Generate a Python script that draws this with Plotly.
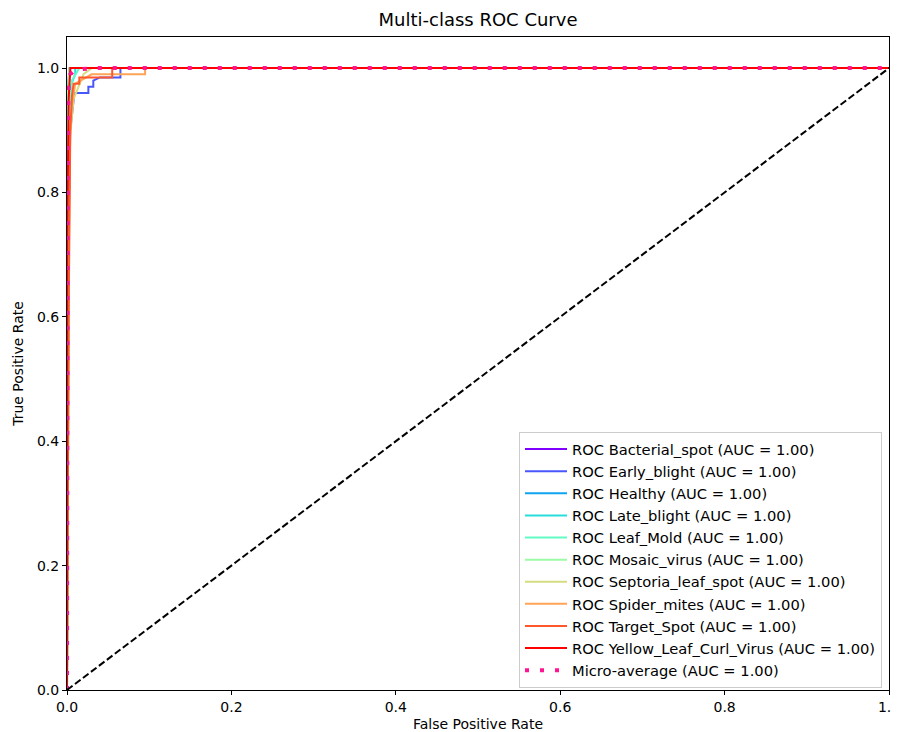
import plotly.graph_objects as go

class_names = ["Bacterial_spot", "Early_blight", "Healthy", "Late_blight", "Leaf_Mold",
               "Mosaic_virus", "Septoria_leaf_spot", "Spider_mites", "Target_Spot",
               "Yellow_Leaf_Curl_Virus"]
class_colors = ["#8000ff", "#4757fb", "#0ea4f0", "#2adddd", "#62fbc4",
                "#9cfba4", "#d4dd80", "#ffa457", "#ff572c", "#ff0000"]
auc_values = [1.00, 1.00, 1.00, 1.00, 1.00, 1.00, 1.00, 1.00, 1.00, 1.00]

fpr_bacterial = [0, 0, 0.002, 0.004, 1]
tpr_bacterial = [0, 0.85, 0.97, 1.0, 1.0]
fpr_early = [0, 0.002, 0.004, 0.006, 0.009, 0.026, 0.026, 0.032, 0.032, 0.040, 0.065, 0.065, 1]
tpr_early = [0, 0.75, 0.90, 0.925, 0.96, 0.96, 0.97, 0.97, 0.98, 0.985, 0.985, 1.0, 1.0]
fpr_healthy = [0, 0, 0.003, 1]
tpr_healthy = [0, 0.95, 1.0, 1.0]
fpr_late = [0, 0.001, 0.004, 0.010, 0.010, 1]
tpr_late = [0, 0.90, 0.97, 0.99, 1.0, 1.0]
fpr_mold = [0, 0.002, 0.006, 0.015, 1]
tpr_mold = [0, 0.92, 0.98, 1.0, 1.0]
fpr_mosaic = [0, 0.001, 0.003, 1]
tpr_mosaic = [0, 0.96, 1.0, 1.0]
fpr_septoria = [0, 0.003, 0.008, 0.020, 0.030, 1]
tpr_septoria = [0, 0.88, 0.95, 0.99, 1.0, 1.0]
fpr_spider = [0, 0.003, 0.006, 0.010, 0.030, 0.095, 0.095, 1]
tpr_spider = [0, 0.88, 0.94, 0.975, 0.99, 0.99, 1.0, 1.0]
fpr_target = [0, 0.002, 0.004, 0.006, 0.008, 0.015, 0.015, 0.055, 0.055, 1]
tpr_target = [0, 0.60, 0.90, 0.955, 0.975, 0.975, 0.985, 0.985, 1.0, 1.0]
fpr_yellow = [0, 0, 0.002, 0.003, 0.004, 1]
tpr_yellow = [0, 0.70, 0.95, 0.99, 1.0, 1.0]
fpr_micro = [0, 0, 0.001, 0.002, 0.004, 0.010, 0.030, 1]
tpr_micro = [0, 0.40, 0.90, 0.97, 0.99, 0.997, 1.0, 1.0]
micro_auc = 1.00

class_fpr = [fpr_bacterial, fpr_early, fpr_healthy, fpr_late, fpr_mold,
             fpr_mosaic, fpr_septoria, fpr_spider, fpr_target, fpr_yellow]
class_tpr = [tpr_bacterial, tpr_early, tpr_healthy, tpr_late, tpr_mold,
             tpr_mosaic, tpr_septoria, tpr_spider, tpr_target, tpr_yellow]

diag_x = [0, 1]
diag_y = [0, 1]

x_ticks = [0.0, 0.2, 0.4, 0.6, 0.8, 1.0]
y_ticks = [0.0, 0.2, 0.4, 0.6, 0.8, 1.0]

FONT = "DejaVu Sans"
W, H = 891, 724  # page adds an 8px body margin

fig = go.Figure()
for name, col, auc, fx, ty in zip(class_names, class_colors, auc_values, class_fpr, class_tpr):
    fig.add_trace(go.Scatter(x=fx, y=ty, mode="lines", line=dict(color=col, width=2),
                             name=f"ROC {name} (AUC = {auc:.2f})"))
fig.add_trace(go.Scatter(x=fpr_micro, y=tpr_micro, mode="lines",
                         line=dict(color="#ff1493", width=4, dash="4px,11px"),
                         name=f"Micro-average (AUC = {micro_auc:.2f})"))
fig.add_trace(go.Scatter(x=diag_x, y=diag_y, mode="lines",
                         line=dict(color="black", width=2, dash="7px,3px"),
                         showlegend=False))

axis_common = dict(showline=True, mirror=True, linecolor="black", linewidth=1,
                   ticks="outside", ticklen=4, tickcolor="black", showgrid=False,
                   zeroline=False, automargin=False, ticklabeloverflow="allow",
                   tickfont=dict(family=FONT, size=14, color="black"))

fig.update_layout(
    width=W, height=H,
    margin=dict(l=59, r=10, t=29, b=42),
    paper_bgcolor="white", plot_bgcolor="white",
    font=dict(family=FONT, color="black"),
    title=dict(text="Multi-class ROC Curve", x=470 / W, xanchor="center",
               y=1 - 12 / H, yanchor="middle", automargin=False,
               font=dict(family=FONT, size=18, color="black")),
    xaxis=dict(range=[0, 1], tickvals=x_ticks, ticktext=[f"{v:.1f}" for v in x_ticks],
               title=dict(text="False Positive Rate", font=dict(family=FONT, size=14), standoff=8),
               **axis_common),
    yaxis=dict(range=[0, 1.05], tickvals=y_ticks, ticktext=[f"{v:.1f}" for v in y_ticks],
               title=dict(text="True Positive Rate", font=dict(family=FONT, size=14), standoff=10),
               **axis_common),
    legend=dict(x=0.9915, y=0.003, xanchor="right", yanchor="bottom",
                bgcolor="rgba(255,255,255,0.8)", bordercolor="#cccccc", borderwidth=1,
                itemwidth=42,
                font=dict(family=FONT, size=14.7, color="black")),
)

fig.write_html("out.html")
